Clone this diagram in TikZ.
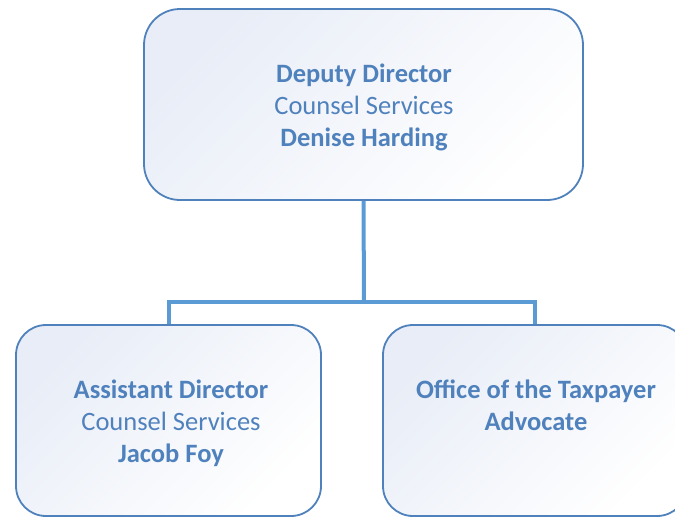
\documentclass[tikz,border=0pt]{standalone}
\usepackage{fontspec}
\setmainfont{Carlito}
\definecolor{boxline}{HTML}{4F81BD}
\definecolor{conn}{HTML}{5B9BD5}
\definecolor{txt}{HTML}{4F81BD}
\definecolor{shade}{HTML}{E8EDF7}
\tikzset{
  orgbox/.style={draw=boxline, line width=1.8pt, rounded corners=#1,
    top color=shade, bottom color=white, shading angle=45,
    text=txt, align=center, inner sep=0pt,
    font=\fontsize{26.5}{32}\selectfont},
  boxtext/.style={text=txt, align=center, inner sep=0pt, font=\fontsize{26.5}{32}\selectfont},
  link/.style={draw=conn, line width=4pt}
}
\begin{document}
\begin{tikzpicture}[x=1pt,y=-1pt]
\useasboundingbox (0,0) rectangle (675,517);
\clip (0,0) rectangle (675,517);
\node[orgbox=36pt, minimum width=439pt, minimum height=191pt] (top) at (363.5,104.5) {};
\node[boxtext] (toptext) at (364,107)
  {\textbf{Deputy Director}\\Counsel Services\\\textbf{Denise Harding}};
\node[orgbox=30pt, minimum width=305pt, minimum height=191pt] (left) at (168.5,420.5) {};
\node[boxtext] (lefttext) at (171,423)
  {\textbf{Assistant Director}\\Counsel Services\\\textbf{Jacob Foy}};
\node[orgbox=30pt, minimum width=304pt, minimum height=191pt] (right) at (535,420.5) {};
\node[boxtext, font=\fontsize{26.5}{32}\selectfont\bfseries] (righttext) at (536,405)
  {Office of the Taxpayer\\Advocate};
\coordinate (j) at (364,302);
\draw[link] (top.south) -- (j);
\draw[link] (j) -| (left.north);
\draw[link] (j) -| (right.north);
\end{tikzpicture}
\end{document}
